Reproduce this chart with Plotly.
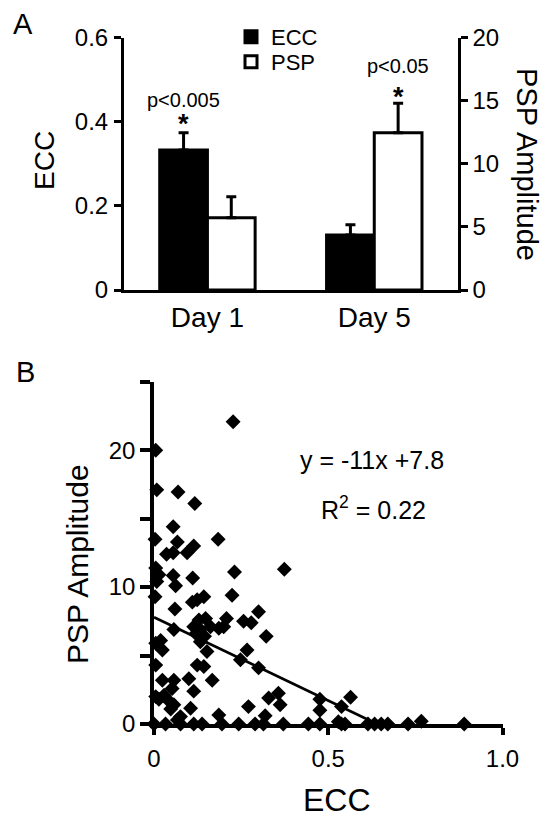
import plotly.graph_objects as go

# ---------------- Panel A data ----------------
days = ["Day 1", "Day 5"]
day_pos = [0, 1]
ecc_mean = [0.333, 0.131]
ecc_err = [0.041, 0.024]
psp_mean = [5.73, 12.47]
psp_err = [1.67, 2.33]
p_labels = ["p<0.005", "p<0.05"]

# ---------------- Panel B data ----------------
ecc_pts = [
    0.005, 0.008, 0.003, 0.005, 0.014, 0.008, 0.003, 0.019, 0.005, 0.024,
    0.005, 0.024, 0.057, 0.052, 0.029, 0.014, 0.038, 0.057, 0.048, 0.005,
    0.100, 0.114, 0.076, 0.067,
    0.227, 0.069, 0.117, 0.055, 0.067, 0.184, 0.036, 0.055, 0.095, 0.114,
    0.231, 0.374, 0.055, 0.111, 0.062, 0.224, 0.143, 0.124, 0.110, 0.060,
    0.300, 0.208, 0.257, 0.279, 0.322,
    0.129, 0.148, 0.114, 0.133, 0.162, 0.186, 0.200, 0.133, 0.057, 0.120, 0.145,
    0.152, 0.267, 0.248, 0.300, 0.124, 0.143, 0.167,
    0.105, 0.271, 0.329, 0.357, 0.362, 0.186, 0.319,
    0.476, 0.476, 0.564, 0.538, 0.529, 0.767,
    0.000, 0.033, 0.076, 0.114, 0.138, 0.195, 0.243, 0.290, 0.314, 0.371,
    0.443, 0.476, 0.538, 0.548, 0.614, 0.633, 0.652, 0.671, 0.729, 0.890,
]
psp_pts = [
    20.0, 17.1, 13.5, 11.4, 10.9, 10.4, 9.3, 6.1, 5.9, 5.4,
    4.3, 3.2, 3.2, 2.6, 2.1, 1.8, 1.8, 1.4, 1.1, 2.0,
    3.3, 2.4, 0.54, 0.3,
    22.07, 16.95, 16.1, 14.4, 13.3, 13.5, 12.4, 12.5, 12.5, 13.0,
    11.1, 11.3, 10.85, 10.66, 10.1, 9.4, 9.3, 9.07, 8.9, 8.4,
    8.2, 7.7, 7.5, 7.4, 6.4,
    7.6, 7.7, 7.1, 6.9, 7.1, 7.0, 7.1, 6.0, 6.9, 6.6, 6.4,
    5.3, 5.4, 4.7, 4.1, 4.3, 4.2, 3.2,
    1.15, 1.27, 1.9, 2.24, 1.4, 0.66, 0.6,
    1.8, 1.0, 1.95, 1.27, 0.17, 0.2,
    0.0, 0.0, 0.0, 0.0, 0.0, 0.0, 0.0, 0.0, 0.0, 0.0,
    0.0, 0.0, 0.0, 0.0, 0.0, 0.0, 0.0, 0.0, 0.0, 0.0,
]
fit_x = [0.0, 0.64]
fit_y = [7.8, 0.0]
eq_text = "y = -11x +7.8"
r2_text = "R<sup>2</sup> = 0.22"

# The page body has an 8px margin, so the figure is 16px smaller than the window
# and all layout positions below are given in window pixels, shifted by OFF.
OFF = 8
W, H = 550 - 2 * OFF, 825 - 2 * OFF
FONT = "Liberation Sans, Arial, Helvetica, sans-serif"
bar_w = 0.286


def px(xp):
    return (xp - OFF) / W


def py(yp):
    return 1 - (yp - OFF) / H


fig = go.Figure()

fig.add_trace(go.Bar(
    x=day_pos, y=ecc_mean, name="ECC", xaxis="x", yaxis="y",
    offset=-bar_w, width=bar_w,
    marker=dict(color="black", line=dict(color="black", width=3)),
    error_y=dict(type="data", array=ecc_err, arrayminus=[0, 0], symmetric=False,
                 color="black", thickness=3, width=5),
    legend="legend",
))
fig.add_trace(go.Bar(
    x=day_pos, y=psp_mean, name="PSP", xaxis="x", yaxis="y2",
    offset=0, width=bar_w,
    marker=dict(color="white", line=dict(color="black", width=3)),
    error_y=dict(type="data", array=psp_err, arrayminus=[0, 0], symmetric=False,
                 color="black", thickness=3, width=5),
    legend="legend2",
))

fig.add_trace(go.Scatter(
    x=ecc_pts, y=psp_pts, mode="markers", xaxis="x2", yaxis="y3",
    marker=dict(symbol="diamond", size=11.5, color="black"),
    cliponaxis=False, showlegend=False,
))
fig.add_trace(go.Scatter(
    x=fit_x, y=fit_y, mode="lines", xaxis="x2", yaxis="y3",
    line=dict(color="black", width=2.7), cliponaxis=False, showlegend=False,
))

annotations = []
# significance labels in panel A
sig_specs = [
    (day_pos[0] - bar_w / 2, ecc_mean[0] + ecc_err[0], "y", p_labels[0], 33, 9),
    (day_pos[1] + bar_w / 2, psp_mean[1] + psp_err[1], "y2", p_labels[1], 37, 6),
]
for xv, yv, yr, lab, shift_p, shift_s in sig_specs:
    annotations.append(dict(x=xv, y=yv, xref="x", yref=yr, text=lab, showarrow=False,
                            yanchor="middle", yshift=shift_p,
                            font=dict(size=20, color="black", family=FONT)))
    annotations.append(dict(x=xv, y=yv, xref="x", yref=yr, text="<b>*</b>", showarrow=False,
                            yanchor="middle", yshift=shift_s,
                            font=dict(size=27, color="black", family=FONT)))

text_specs = [
    ("A", 23, 24, 0, 29),
    ("B", 25, 372, 0, 29),
    ("ECC", 44, 161, -90, 28),
    ("PSP Amplitude", 527, 164, 90, 29),
    ("PSP Amplitude", 77, 564, -90, 30),
    ("ECC", 337, 800, 0, 32),
    (eq_text, 372, 460, 0, 25),
    (r2_text, 373, 508, 0, 25),
]
for t, xp, yp, ang, fs in text_specs:
    annotations.append(dict(x=px(xp), y=py(yp), xref="paper", yref="paper", text=t,
                            showarrow=False, textangle=ang, xanchor="center",
                            yanchor="middle", font=dict(size=fs, color="black", family=FONT)))

axA_line = dict(showline=True, linecolor="black", linewidth=3, showgrid=False,
                zeroline=False, automargin=False)

fig.update_layout(
    width=W, height=H, margin=dict(l=0, r=0, t=0, b=0, pad=0, autoexpand=False),
    paper_bgcolor="white", plot_bgcolor="white",
    font=dict(family=FONT, color="black"),
    barmode="overlay",
    xaxis=dict(domain=[px(124), px(457.7)], anchor="y", range=[-0.5, 1.5],
               tickvals=day_pos, ticktext=days, ticks="",
               tickfont=dict(size=28), ticklabelstandoff=0, **axA_line),
    yaxis=dict(domain=[py(290), py(37.7)], anchor="x", range=[0, 0.6],
               tickvals=[0, 0.2, 0.4, 0.6], ticktext=["0", "0.2", "0.4", "0.6"],
               ticks="outside", ticklen=7, tickwidth=3, tickcolor="black",
               tickfont=dict(size=24), ticklabelstandoff=1, **axA_line),
    yaxis2=dict(overlaying="y", side="right", anchor="x", range=[0, 20],
                tickvals=[0, 5, 10, 15, 20],
                ticks="outside", ticklen=7, tickwidth=3, tickcolor="black",
                tickfont=dict(size=24), **axA_line),
    xaxis2=dict(domain=[px(154), px(502.5)], anchor="y3", range=[0, 1],
                tickvals=[0, 0.5, 1.0], ticktext=["0", "0.5", "1.0"],
                ticks="outside", ticklen=7, tickwidth=3.5, tickcolor="black",
                tickfont=dict(size=24), ticklabelstandoff=3,
                showline=True, linecolor="black", linewidth=3.5,
                showgrid=False, zeroline=False, automargin=False),
    yaxis3=dict(domain=[py(724), py(381.7)], anchor="x2", range=[0, 25],
                tickvals=[0, 10, 20], ticktext=["0", "10", "20"],
                ticks="outside", ticklen=10, tickwidth=3.5, tickcolor="black",
                minor=dict(dtick=5, ticks="outside", ticklen=10, tickwidth=3.5,
                           tickcolor="black"),
                tickfont=dict(size=24),
                showline=True, linecolor="black", linewidth=3.5,
                showgrid=False, zeroline=False, automargin=False),
    legend=dict(x=px(231), y=py(37), xanchor="left", yanchor="middle",
                bgcolor="rgba(0,0,0,0)", font=dict(size=22, family=FONT)),
    legend2=dict(x=px(231), y=py(62), xanchor="left", yanchor="middle",
                 bgcolor="rgba(0,0,0,0)", font=dict(size=22, family=FONT)),
    annotations=annotations,
    showlegend=True,
)

fig.write_html("out.html")
